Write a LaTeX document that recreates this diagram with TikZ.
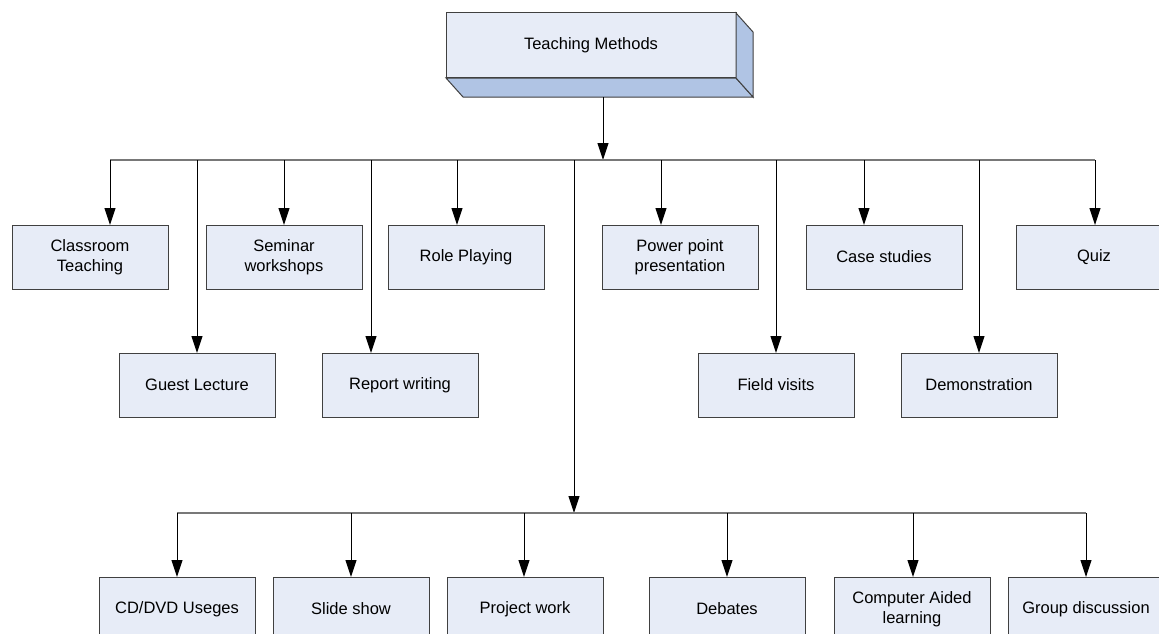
\documentclass[tikz,border=0pt]{standalone}
\usepackage{fontspec}
\setmainfont{Liberation Sans}
\usetikzlibrary{arrows.meta,calc}

\definecolor{boxfill}{RGB}{231,236,247}
\definecolor{boxside}{RGB}{176,196,228}
\definecolor{boxline}{RGB}{64,64,64}
\definecolor{busline}{RGB}{120,120,120}

\tikzset{
  method/.style={draw=boxline,fill=boxfill,line width=1pt,minimum width=156pt,
    minimum height=64pt,align=center,inner sep=0pt,outer sep=0pt},
  arr/.style={line width=1pt,-{Triangle[length=17pt,width=11pt]}},
  bus/.style={draw=busline,line width=1.2pt}
}

\begin{document}
\begin{tikzpicture}[x=1pt,y=-1pt,font=\fontsize{16.5}{20}\selectfont]
  \clip (0,0) rectangle (1159,634);
  \fill[white] (0,0) rectangle (1159,634);
  % top box with its 3d sides
  \node[method,minimum width=290pt,minimum height=65pt] (tm) at (591,45.5) {Teaching Methods};
  \draw[boxline,fill=boxside,line width=1pt] (tm.south west) -- (tm.south east) -- ++(17,19) -- ++(-290,0) -- cycle;
  \draw[boxline,fill=boxside,line width=1pt] (tm.north east) -- ++(17,19) -- ++(0,65) -- (tm.south east) -- cycle;
  \coordinate (tmb) at ($(tm.south)+(12,19)$);
  \coordinate (hub) at (603,160);
  \draw[arr] (tmb) -- (hub);
  % upper bus
  \coordinate (busL) at (110,160);
  \coordinate (busR) at (1095,160);
  \draw[bus] (busL) -- (busR);
  \foreach \n/\x/\ax/\t in {cls/90/110/{Classroom\\Teaching},sem/284/284/{Seminar\\workshops},rol/466/457/Role Playing,ppt/680/661/{Power point\\presentation},cas/884/864/Case studies,qui/1094/1095/Quiz}
  {
    \node[method] (\n) at (\x,257) {\t};
    \coordinate (\n-in) at (\ax,160);
    \draw[arr] (\n-in) -- (\n.north -| \n-in);
  }
  \foreach \n/\x/\ax/\t in {gue/197/197/Guest Lecture,rep/400/371/Report writing,fie/776/776/Field visits,dem/979/979/Demonstration}
  {
    \node[method] (\n) at (\x,385) {\t};
    \coordinate (\n-in) at (\ax,160);
    \draw[arr] (\n-in) -- (\n.north -| \n-in);
  }
  % lower bus
  \coordinate (mid) at (574,160);
  \coordinate (sub) at (574,513);
  \draw[arr] (mid) -- (sub);
  \coordinate (subL) at (177,513);
  \coordinate (subR) at (1086,513);
  \draw[bus] (subL) -- (subR);
  \foreach \n/\x/\ax/\t in {cdd/177/177/{CD/DVD Useges},sli/351/351/Slide show,pro/525/524/Project work,deb/727/727/Debates,cal/912/913/{Computer Aided\\learning},grp/1086/1086/Group discussion}
  {
    \node[method] (\n) at (\x,609) {\t};
    \coordinate (\n-in) at (\ax,513);
    \draw[arr] (\n-in) -- (\n.north -| \n-in);
  }
\end{tikzpicture}
\end{document}
